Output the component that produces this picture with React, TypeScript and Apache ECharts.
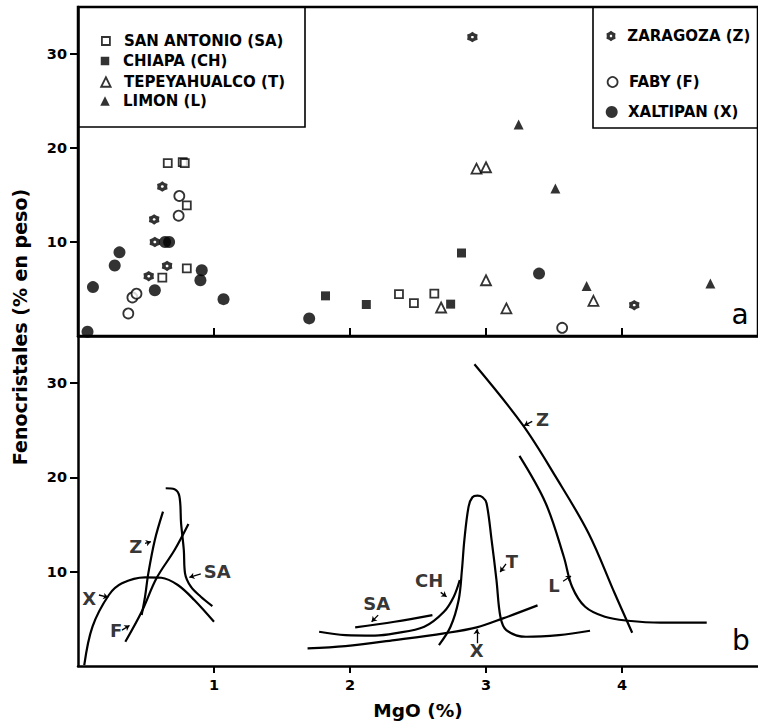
import React, { useEffect, useRef } from "react";
import * as echarts from "echarts";

// ---------- data ----------
const xTickValues = [1, 2, 3, 4];
const yTickValues = [10, 20, 30];

// panel a (scatter): [MgO %, Fenocristales %]
const sanAntonio = [[0.66, 18.4], [0.77, 18.5], [0.785, 18.4], [0.8, 13.9], [0.8, 7.2], [0.62, 6.2], [2.36, 4.45], [2.47, 3.5], [2.62, 4.5]];
const chiapa = [[1.82, 4.27], [2.12, 3.35], [2.82, 8.83], [2.74, 3.39]];
const tepeyahualco = [[2.93, 17.8], [3.0, 17.95], [3.0, 5.93], [2.67, 3.03], [3.15, 2.93], [3.79, 3.74]];
const limon = [[3.24, 22.5], [3.51, 15.7], [3.74, 5.33], [4.65, 5.58]];
const zaragoza = [[2.9, 31.8], [4.09, 3.28], [0.62, 15.9], [0.56, 12.4], [0.565, 10.0], [0.655, 7.45], [0.52, 6.36]];
const faby = [[0.745, 14.9], [0.74, 12.8], [0.4, 4.1], [0.43, 4.5], [0.37, 2.4], [3.56, 0.87]];
const xaltipan = [[0.07, 0.45], [0.11, 5.2], [0.27, 7.5], [0.305, 8.9], [0.565, 4.87], [0.64, 10.0], [0.67, 10.0], [0.91, 7.0], [0.9, 5.93], [1.07, 3.92], [1.7, 1.87], [3.39, 6.64]];

// panel b (trend curves)
const curveX1 = [[0.046, 0.1], [0.106, 4.16], [0.227, 7.53], [0.323, 8.77], [0.493, 9.41], [0.613, 9.36], [0.734, 8.59], [0.855, 7.0], [1.0, 4.69]];
const curveF = [[0.348, 2.57], [0.468, 5.75], [0.577, 9.3], [0.71, 12.3], [0.812, 15.06]];
const curveZ1 = [[0.468, 5.4], [0.493, 7.35], [0.517, 9.83], [0.565, 13.37], [0.625, 16.37]];
const curveSA1 = [[0.645, 18.85], [0.71, 18.75], [0.746, 17.96], [0.758, 15.14], [0.778, 12.3], [0.787, 9.83], [0.83, 8.41], [0.903, 7.35], [0.988, 6.36]];
const curveSA2 = [[2.038, 4.1], [2.328, 4.69], [2.606, 5.4]];
const curveCH = [[1.773, 3.63], [1.966, 3.28], [2.183, 3.23], [2.328, 3.46], [2.546, 4.16], [2.691, 5.75], [2.763, 7.35], [2.807, 9.12]];
const curveX2 = [[1.688, 1.87], [1.966, 2.11], [2.328, 2.75], [2.691, 3.46], [2.932, 4.1], [3.125, 5.05], [3.379, 6.43]];
const curveT = [[2.654, 2.22], [2.739, 4.16], [2.799, 7.0], [2.823, 10.18], [2.841, 13.37], [2.872, 16.9], [2.9, 17.9], [2.937, 18.07], [2.975, 17.9], [3.004, 17.26], [3.041, 13.37], [3.077, 9.12], [3.106, 5.22], [3.149, 3.81], [3.294, 3.1], [3.536, 3.28], [3.765, 3.74]];
const curveZ2 = [[2.915, 32.0], [3.27, 25.57], [3.512, 20.08], [3.754, 14.08], [3.946, 7.71], [4.075, 3.52]];
const curveL = [[3.246, 22.28], [3.439, 17.26], [3.572, 11.59], [3.633, 8.41], [3.729, 6.28], [3.874, 5.22], [4.043, 4.8], [4.285, 4.59], [4.623, 4.59]];

const curveLabelNames = ["Z", "X", "F", "SA", "SA", "CH", "T", "X", "Z", "L"];
const curveLabelPos = [[0.425, 12.65], [0.082, 7.18], [0.28, 3.81], [1.024, 10.0], [2.196, 6.65], [2.582, 9.12], [3.19, 11.06], [2.932, 1.69], [3.415, 26.1], [3.5, 8.59]];
const arrowCoords = [
  [[0.493, 13.0], [0.536, 13.18]],
  [[0.154, 7.53], [0.222, 7.28]],
  [[0.323, 3.81], [0.379, 4.29]],
  [[0.903, 9.76], [0.819, 9.41]],
  [[2.207, 5.4], [2.159, 4.69]],
  [[2.667, 7.81], [2.71, 7.35]],
  [[3.147, 10.82], [3.104, 9.97]],
  [[2.932, 2.4], [2.932, 3.89]],
  [[3.34, 25.95], [3.28, 25.5]],
  [[3.567, 8.99], [3.625, 9.54]],
];

// ---------- styling ----------
const FONT = "DejaVu Sans";
// six-pointed "gear" star with a small white centre
const STAR =
  "path://M10 0L14 3.07L18.66 5L18 10L18.66 15L14 16.93L10 20L6 16.93L1.34 15L2 10L1.34 5L6 3.07Z" +
  "M12.6 10L11.3 7.75L8.7 7.75L7.4 10L8.7 12.25L11.3 12.25Z";

const hollow = { color: "#fff", borderColor: "#000", borderWidth: 1.8 };
const filled = { color: "#000", borderWidth: 0 };

const scatterDefs = [
  { name: "SAN ANTONIO (SA)", data: sanAntonio, symbol: "rect", size: 8, style: hollow, lg: { cy: 41, cx: 105, s: 8, tx: 123 } },
  { name: "CHIAPA (CH)", data: chiapa, symbol: "rect", size: 9, style: filled, lg: { cy: 61, cx: 105, s: 8.5, tx: 123 } },
  { name: "TEPEYAHUALCO (T)", data: tepeyahualco, symbol: "triangle", size: 10, style: hollow, lg: { cy: 82, cx: 105, s: 9.5, tx: 123 } },
  { name: "LIMON (L)", data: limon, symbol: "triangle", size: 10, style: filled, lg: { cy: 101, cx: 105, s: 9.5, tx: 123 } },
  { name: "ZARAGOZA (Z)", data: zaragoza, symbol: STAR, size: 10.5, style: filled, lg: { cy: 36, cx: 611.7, s: 10.5, tx: 628 } },
  { name: "FABY (F)", data: faby, symbol: "circle", size: 10, style: hollow, lg: { cy: 82, cx: 611.7, s: 10, tx: 628 } },
  { name: "XALTIPAN (X)", data: xaltipan, symbol: "circle", size: 12, style: filled, lg: { cy: 112, cx: 611.7, s: 12, tx: 628 } },
];

const curves = [curveX1, curveF, curveZ1, curveSA1, curveSA2, curveCH, curveX2, curveT, curveZ2, curveL];

function buildOption() {
  const axisLine = { show: true, lineStyle: { color: "#000", width: 2.5 } };
  const xAxisBase = {
    type: "value",
    min: 0,
    max: 5,
    interval: 1,
    splitLine: { show: false },
    axisLine,
  };
  const yAxisBase = {
    type: "value",
    min: 0,
    max: 35,
    interval: 5,
    splitLine: { show: false },
    axisLine,
    axisTick: { show: true, inside: false, length: 8, lineStyle: { color: "#000", width: 2 }, customValues: yTickValues },
    axisLabel: { show: true, customValues: yTickValues, margin: 11, color: "#000", fontFamily: FONT, fontSize: 14.5, fontWeight: "bold" },
  };

  const series: any[] = [];
  scatterDefs.forEach((d) => {
    series.push({
      type: "scatter",
      name: d.name,
      xAxisIndex: 0,
      yAxisIndex: 0,
      data: d.data,
      symbol: d.symbol,
      symbolSize: d.size,
      itemStyle: d.style,
      clip: false,
      z: 3,
    });
  });
  curves.forEach((c) => {
    series.push({
      type: "line",
      xAxisIndex: 1,
      yAxisIndex: 1,
      data: c,
      smooth: 0.35,
      symbol: "none",
      lineStyle: { color: "#000", width: 2.2 },
      z: 2,
    });
  });
  series.push({
    type: "scatter",
    xAxisIndex: 1,
    yAxisIndex: 1,
    symbolSize: 0,
    data: curveLabelNames.map((n, i) => ({ name: n, value: curveLabelPos[i] })),
    label: { show: true, position: "inside", formatter: "{b}", color: "#000", fontFamily: FONT, fontSize: 18, fontWeight: "bold" },
    z: 4,
  });
  series.push({
    type: "lines",
    coordinateSystem: "cartesian2d",
    xAxisIndex: 1,
    yAxisIndex: 1,
    data: arrowCoords.map((c) => ({ coords: c })),
    symbol: ["none", "arrow"],
    symbolSize: 5,
    lineStyle: { color: "#000", width: 1.3, opacity: 1 },
    z: 4,
  });

  const legends = scatterDefs.map((d) => ({
    data: [d.name],
    orient: "vertical",
    left: d.lg.cx - d.lg.s / 2,
    top: d.lg.cy - 8,
    padding: 0,
    itemWidth: d.lg.s,
    itemHeight: d.lg.s,
    selectedMode: false,
    itemStyle: { borderWidth: d.style.borderWidth },
    textStyle: {
      color: "#000",
      fontFamily: FONT,
      fontSize: 15,
      fontWeight: "bold",
      lineHeight: 16,
      padding: [0, 0, 0, d.lg.tx - (d.lg.cx + d.lg.s / 2) - 5],
    },
  }));

  return {
    animation: false,
    backgroundColor: "#fff",
    grid: [
      { left: 78, top: 7, width: 690, height: 329, show: true, borderColor: "#000", borderWidth: 2.5, backgroundColor: "transparent" },
      { left: 78, top: 336, width: 690, height: 330 },
    ],
    xAxis: [
      {
        ...xAxisBase,
        gridIndex: 0,
        axisTick: { show: true, inside: true, length: 8, lineStyle: { color: "#000", width: 2 }, customValues: xTickValues },
        axisLabel: { show: false },
      },
      {
        ...xAxisBase,
        gridIndex: 1,
        axisTick: { show: true, inside: false, length: 7, lineStyle: { color: "#000", width: 2 }, customValues: xTickValues },
        axisLabel: { show: true, customValues: xTickValues, margin: 11, color: "#000", fontFamily: FONT, fontSize: 14.5, fontWeight: "bold" },
        name: "MgO (%)",
        nameLocation: "middle",
        nameGap: 35,
        nameTextStyle: { color: "#000", fontFamily: FONT, fontSize: 18.5, fontWeight: "bold" },
      },
    ],
    yAxis: [
      { ...yAxisBase, gridIndex: 0 },
      { ...yAxisBase, gridIndex: 1 },
    ],
    legend: legends,
    graphic: [
      { type: "rect", shape: { x: 78, y: 7, width: 227, height: 120 }, style: { fill: "transparent", stroke: "#000", lineWidth: 1.6 }, z: 10 },
      { type: "rect", shape: { x: 593, y: 7, width: 200, height: 121 }, style: { fill: "transparent", stroke: "#000", lineWidth: 1.6 }, z: 10 },
      {
        type: "text",
        x: 20,
        y: 327,
        rotation: Math.PI / 2,
        style: { text: "Fenocristales (% en peso)", fill: "#000", font: `bold 19px "${FONT}"`, align: "center", verticalAlign: "middle" },
        z: 10,
      },
      { type: "text", x: 740, y: 314, style: { text: "a", fill: "#000", font: `28px "${FONT}"`, align: "center", verticalAlign: "middle" }, z: 10 },
      { type: "text", x: 741, y: 640, style: { text: "b", fill: "#000", font: `28px "${FONT}"`, align: "center", verticalAlign: "middle" }, z: 10 },
    ],
    series,
  };
}

export default function App() {
  const ref = useRef<HTMLDivElement>(null);
  useEffect(() => {
    if (!ref.current) return;
    const chart = echarts.init(ref.current, undefined, { renderer: "svg" });
    chart.setOption(buildOption() as any);
    return () => chart.dispose();
  }, []);
  return (
    <div
      ref={ref}
      style={{ position: "absolute", left: 0, top: 0, width: 758, height: 721, background: "#fff" }}
    />
  );
}
